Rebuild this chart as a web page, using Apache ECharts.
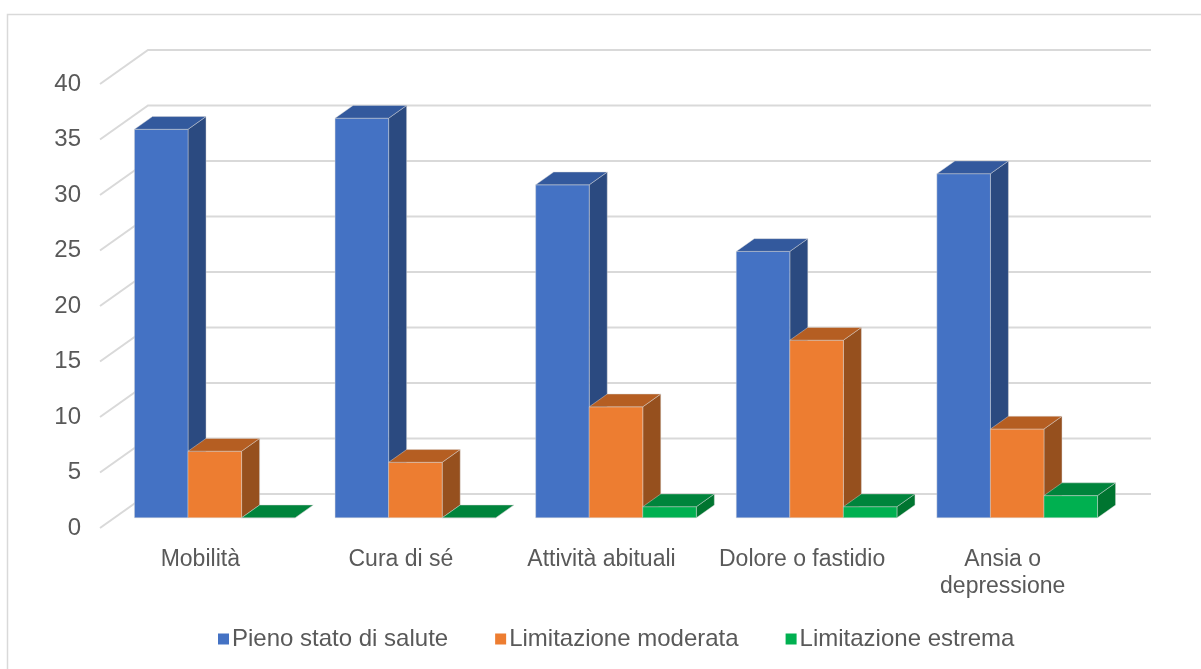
<!DOCTYPE html>
<html>
<head>
<meta charset="utf-8">
<title>Stato di salute per dimensione</title>
<script src="https://cdn.jsdelivr.net/npm/echarts@6/dist/echarts.min.js"></script>
<style>
  html, body { margin: 0; padding: 0; background: #ffffff; }
  #chart { width: 1201px; height: 669px; }
</style>
</head>
<body>
<div id="chart"></div>
<script>
// Dimensions and answers per level
const categories = ['Mobilità', 'Cura di sé', 'Attività abituali', 'Dolore o fastidio', 'Ansia o\ndepressione'];
const seriesNames = ['Pieno stato di salute', 'Limitazione moderata', 'Limitazione estrema'];
const pieno = [35, 36, 30, 24, 31];
const moderata = [6, 5, 10, 16, 8];
const estrema = [0, 0, 1, 1, 2];
const yTicks = [0, 5, 10, 15, 20, 25, 30, 35, 40];

// Face colours for each series: front, top, side
const faces = [
  { front: '#4472C4', top: '#33599D', side: '#2B4A80' },
  { front: '#ED7D31', top: '#B55E22', side: '#96501E' },
  { front: '#00B050', top: '#00843C', side: '#007530' }
];

// Oblique projection of the depth axis (pixels)
const WALL_DX = 48, WALL_DY = -34;       // front edge to back wall
const BAR_FRONT = 0.3, BAR_BACK = 0.675; // bar depth as a fraction of the wall depth
const BAR_SHARE = 0.267;                 // bar width as a fraction of a category band

// Back wall and side wall gridlines
function wallRender(params, api) {
  const cs = params.coordSys;
  const y = api.coord([0, api.value(1)])[1];
  const x0 = cs.x, x1 = cs.x + cs.width;
  return {
    type: 'polyline',
    shape: { points: [[x0, y], [x0 + WALL_DX, y + WALL_DY], [x1 + WALL_DX, y + WALL_DY]] },
    style: { stroke: '#D9D9D9', lineWidth: 2, fill: null }
  };
}

// Box-shaped bar drawn in oblique projection
function barRender(idx) {
  const c = faces[idx];
  return function (params, api) {
    const cat = api.value(0);
    const v = api.value(1);
    const base = api.coord([cat, 0]);
    const top = api.coord([cat, v]);
    const band = api.size([1, 0])[0];
    const bw = band * BAR_SHARE;
    const fdx = WALL_DX * BAR_FRONT, fdy = WALL_DY * BAR_FRONT;
    const ddx = WALL_DX * (BAR_BACK - BAR_FRONT), ddy = WALL_DY * (BAR_BACK - BAR_FRONT);
    const xl = base[0] + fdx - band * 0.4 + idx * bw;
    const xr = xl + bw;
    const yb = base[1] + fdy;
    const yt = top[1] + fdy;
    const edge = { stroke: 'rgba(215,215,215,0.55)', lineWidth: 0.8 };
    const children = [];
    // side face
    children.push({
      type: 'polygon',
      shape: { points: [[xr, yb], [xr + ddx, yb + ddy], [xr + ddx, yt + ddy], [xr, yt]] },
      style: Object.assign({ fill: c.side }, edge)
    });
    // front face
    children.push({
      type: 'polygon',
      shape: { points: [[xl, yb], [xr, yb], [xr, yt], [xl, yt]] },
      style: Object.assign({ fill: c.front }, edge)
    });
    // top face
    children.push({
      type: 'polygon',
      shape: { points: [[xl, yt], [xr, yt], [xr + ddx, yt + ddy], [xl + ddx, yt + ddy]] },
      style: Object.assign({ fill: c.top }, edge)
    });
    return { type: 'group', children: children };
  };
}

const values = [pieno, moderata, estrema];
const barSeries = values.map(function (arr, i) {
  return {
    name: seriesNames[i],
    type: 'custom',
    renderItem: barRender(i),
    clip: false,
    z: 3 + i,
    itemStyle: { color: faces[i].front },
    encode: { x: 0, y: 1 },
    data: arr.map(function (v, k) { return [k, v]; })
  };
});

const chart = echarts.init(document.getElementById('chart'), null, { renderer: 'canvas' });
chart.setOption({
  backgroundColor: '#ffffff',
  animation: false,
  color: faces.map(function (f) { return f.front; }),
  textStyle: { fontFamily: '"Liberation Sans", Arial, sans-serif', color: '#595959' },
  graphic: [{
    type: 'rect',
    shape: { x: 7.5, y: 14.5, width: 1210, height: 680 },
    style: { fill: null, stroke: '#D9D9D9', lineWidth: 1.5 },
    silent: true
  }],
  grid: { left: 100, right: 98, top: 84, bottom: 141 },
  legend: {
    data: seriesNames,
    left: 213,
    top: 622,
    icon: 'rect',
    itemWidth: 11,
    itemHeight: 11,
    itemGap: 47,
    textStyle: { fontSize: 24, color: '#595959', fontFamily: '"Liberation Sans", Arial, sans-serif', padding: [0, 0, 0, -2] }
  },
  xAxis: {
    type: 'category',
    data: categories,
    axisLine: { show: false },
    axisTick: { show: false },
    splitLine: { show: false },
    axisLabel: { fontSize: 23, color: '#595959', margin: 18, lineHeight: 27, interval: 0 }
  },
  yAxis: {
    type: 'value',
    min: 0,
    max: 40,
    interval: 5,
    axisLine: { show: false },
    axisTick: { show: false },
    splitLine: { show: false },
    axisLabel: { fontSize: 24, color: '#595959', margin: 19 }
  },
  series: [{
    name: 'griglia',
    type: 'custom',
    renderItem: wallRender,
    clip: false,
    silent: true,
    z: 1,
    encode: { x: 0, y: 1 },
    data: yTicks.map(function (t) { return [0, t]; })
  }].concat(barSeries)
});
</script>
</body>
</html>
